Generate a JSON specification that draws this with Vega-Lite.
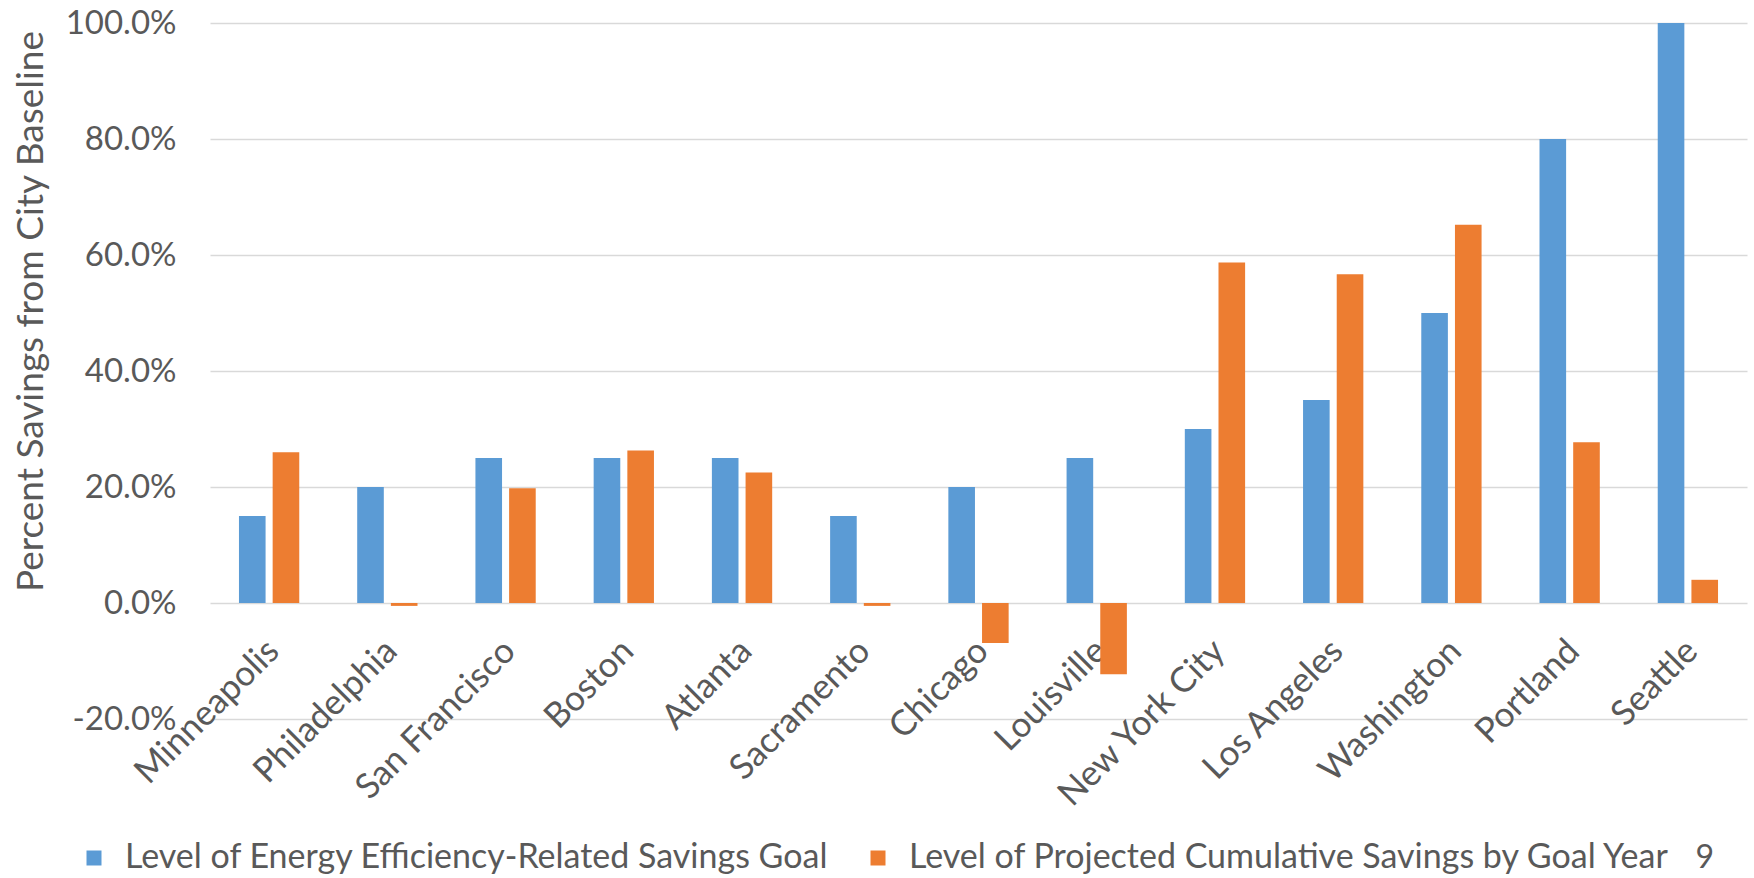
{
  "$schema": "https://vega.github.io/schema/vega-lite/v6.json",
  "width": 1537,
  "height": 696,
  "autosize": {"type": "none"},
  "padding": {"left": 210, "top": 23, "right": 7, "bottom": 159},
  "background": "white",
  "config": {"view": {"stroke": null}, "font": "Lato"},
  "title": {"text": "9", "orient": "bottom", "anchor": "end", "fontSize": 32, "color": "#595959", "fontWeight": "normal", "dx": -33, "dy": -36},
  "data": {"values": [
    {"city": "Minneapolis", "series": "Level of Energy Efficiency-Related Savings Goal", "value": 0.15},
    {"city": "Minneapolis", "series": "Level of Projected Cumulative Savings by Goal Year", "value": 0.26},
    {"city": "Philadelphia", "series": "Level of Energy Efficiency-Related Savings Goal", "value": 0.20},
    {"city": "Philadelphia", "series": "Level of Projected Cumulative Savings by Goal Year", "value": -0.005},
    {"city": "San Francisco", "series": "Level of Energy Efficiency-Related Savings Goal", "value": 0.25},
    {"city": "San Francisco", "series": "Level of Projected Cumulative Savings by Goal Year", "value": 0.198},
    {"city": "Boston", "series": "Level of Energy Efficiency-Related Savings Goal", "value": 0.25},
    {"city": "Boston", "series": "Level of Projected Cumulative Savings by Goal Year", "value": 0.263},
    {"city": "Atlanta", "series": "Level of Energy Efficiency-Related Savings Goal", "value": 0.25},
    {"city": "Atlanta", "series": "Level of Projected Cumulative Savings by Goal Year", "value": 0.225},
    {"city": "Sacramento", "series": "Level of Energy Efficiency-Related Savings Goal", "value": 0.15},
    {"city": "Sacramento", "series": "Level of Projected Cumulative Savings by Goal Year", "value": -0.005},
    {"city": "Chicago", "series": "Level of Energy Efficiency-Related Savings Goal", "value": 0.20},
    {"city": "Chicago", "series": "Level of Projected Cumulative Savings by Goal Year", "value": -0.069},
    {"city": "Louisville", "series": "Level of Energy Efficiency-Related Savings Goal", "value": 0.25},
    {"city": "Louisville", "series": "Level of Projected Cumulative Savings by Goal Year", "value": -0.123},
    {"city": "New York City", "series": "Level of Energy Efficiency-Related Savings Goal", "value": 0.30},
    {"city": "New York City", "series": "Level of Projected Cumulative Savings by Goal Year", "value": 0.587},
    {"city": "Los Angeles", "series": "Level of Energy Efficiency-Related Savings Goal", "value": 0.35},
    {"city": "Los Angeles", "series": "Level of Projected Cumulative Savings by Goal Year", "value": 0.567},
    {"city": "Washington", "series": "Level of Energy Efficiency-Related Savings Goal", "value": 0.50},
    {"city": "Washington", "series": "Level of Projected Cumulative Savings by Goal Year", "value": 0.652},
    {"city": "Portland", "series": "Level of Energy Efficiency-Related Savings Goal", "value": 0.80},
    {"city": "Portland", "series": "Level of Projected Cumulative Savings by Goal Year", "value": 0.277},
    {"city": "Seattle", "series": "Level of Energy Efficiency-Related Savings Goal", "value": 1.00},
    {"city": "Seattle", "series": "Level of Projected Cumulative Savings by Goal Year", "value": 0.04}
  ]},
  "mark": {"type": "bar"},
  "encoding": {
    "x": {
      "field": "city", "type": "nominal",
      "sort": ["Minneapolis", "Philadelphia", "San Francisco", "Boston", "Atlanta", "Sacramento", "Chicago", "Louisville", "New York City", "Los Angeles", "Washington", "Portland", "Seattle"],
      "scale": {"paddingInner": 0.49, "paddingOuter": 0.245},
      "axis": {"title": null, "labelAngle": -45, "offset": -114, "domain": false, "ticks": false, "tickSize": 0, "labelFontSize": 35, "labelColor": "#595959", "labelPadding": 28, "labelOffset": -8, "labelLimit": 500, "grid": false}
    },
    "xOffset": {
      "field": "series",
      "sort": ["Level of Energy Efficiency-Related Savings Goal", "Level of Projected Cumulative Savings by Goal Year"],
      "scale": {"paddingInner": 0.21}
    },
    "y": {
      "field": "value", "type": "quantitative",
      "scale": {"domain": [-0.2, 1.0], "nice": false},
      "axis": {
        "values": [-0.2, 0, 0.2, 0.4, 0.6, 0.8, 1.0], "format": ".1%",
        "labelExpr": "replace(datum.label, '−', '-')",
        "title": "Percent Savings from City Baseline",
        "domain": false, "ticks": false, "tickSize": 0,
        "gridColor": "#D9D9D9", "gridWidth": 1.5,
        "labelFontSize": 33, "labelColor": "#595959", "labelPadding": 34,
        "titleFontSize": 37, "titleColor": "#595959", "titleFontWeight": "normal",
        "titleX": -160, "titleY": 288
      }
    },
    "color": {
      "field": "series", "type": "nominal",
      "scale": {"domain": ["Level of Energy Efficiency-Related Savings Goal", "Level of Projected Cumulative Savings by Goal Year"], "range": ["#5B9BD5", "#ED7D31"]},
      "legend": {
        "orient": "none", "legendX": -133, "legendY": 818, "direction": "horizontal",
        "title": null, "symbolType": "square", "symbolSize": 225, "symbolStrokeWidth": 0,
        "labelFontSize": 34, "labelColor": "#595959", "labelOffset": 14, "columnPadding": 32, "labelLimit": 900
      }
    }
  }
}
